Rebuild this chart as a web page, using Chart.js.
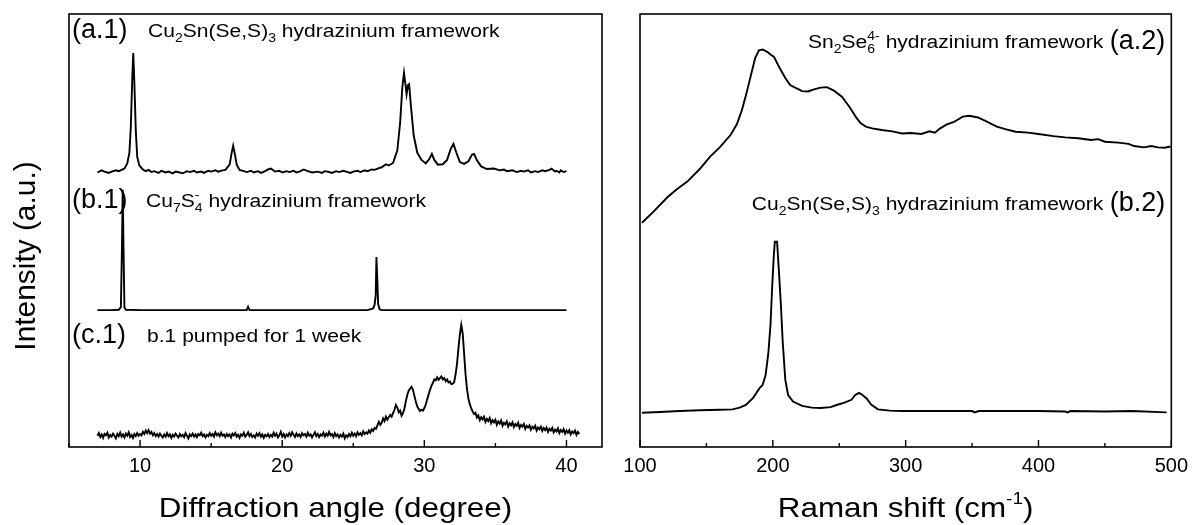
<!DOCTYPE html>
<html>
<head>
<meta charset="utf-8">
<script src="https://cdn.jsdelivr.net/npm/chart.js@4.4.1/dist/chart.umd.min.js"></script>
<style>
  html, body { margin: 0; padding: 0; background: #fff; }
  #wrap { position: relative; width: 1195px; height: 525px; }
  canvas { position: absolute; top: 0; }
  #xrd { left: 0; }
  #raman { left: 610px; }
</style>
</head>
<body>
<div id="wrap">
  <canvas id="xrd" width="610" height="525"></canvas>
  <canvas id="raman" width="585" height="525"></canvas>
</div>
<script>
// XRD traces, [angle, intensity a.u.] (already stacked)
const xrdA1 = [
  [7.0,63.4],[7.3,63.9],[7.5,63.6],[7.8,63.3],[8.0,63.6],[8.3,63.9],[8.5,63.7],[8.7,64.0],[8.9,64.3],[9.1,65.5],[9.25,68],[9.35,74],[9.45,85],[9.52,91.0],
  [9.6,84],[9.7,73],[9.8,67],[9.95,65],[10.2,64.1],[10.4,63.7],[10.6,64.0],[10.8,63.5],[11.0,63.7],[11.3,63.3],[11.5,63.8],[11.8,63.4],[12.0,63.6],[12.3,63.2],[12.5,63.6],
  [12.8,63.4],[13.0,63.2],[13.3,63.7],[13.5,63.5],[13.8,63.8],[14.0,63.4],[14.3,63.6],[14.5,63.3],[14.8,63.8],[15.0,63.6],[15.3,63.9],[15.5,63.6],[15.8,63.9],[16.0,64.0],[16.3,65.2],[16.45,68],[16.55,69.6],
  [16.65,68],[16.8,65.2],[17.0,64.0],[17.3,63.7],[17.5,63.5],[17.8,63.8],[18.0,63.4],[18.3,63.7],[18.5,63.3],[18.8,63.7],[19.0,64.1],[19.2,64.3],[19.5,63.6],[19.8,63.8],[20.0,63.4],
  [20.3,63.7],[20.5,63.5],[20.8,63.8],[21.0,63.4],[21.3,63.7],[21.5,64.1],[21.8,63.7],[22.1,63.4],[22.5,63.6],[22.8,63.3],[23.0,63.7],[23.3,63.5],[23.5,63.3],[23.8,63.7],[24.0,63.5],[24.3,63.8],[24.5,63.6],[24.8,63.3],[25.0,63.6],
  [25.3,63.8],[25.5,63.5],[25.8,63.9],[26.0,63.7],[26.3,64.1],[26.5,64.0],[26.8,64.4],[27.0,64.6],[27.3,65.3],[27.5,65.0],[27.8,65.6],[28.1,68.5],[28.3,75],[28.45,83],
  [28.57,86.4],[28.68,83.5],[28.75,81.5],[28.85,83.6],[28.93,83.8],[29.05,79],[29.25,72],[29.5,68],[29.8,66.3],[30.1,65.5],
  [30.35,66.5],[30.53,67.7],[30.7,66.3],[30.95,65.2],[31.3,65.3],[31.6,66.3],[31.85,68.8],[32.05,70.0],[32.25,68],[32.5,65.8],
  [32.8,65.4],[33.1,66.0],[33.35,67.5],[33.5,67.7],[33.7,66.2],[34.0,64.8],[34.4,64.2],[34.9,64.3],[35.3,63.9],[35.6,64.1],[35.8,63.7],[36.2,63.9],
  [36.5,63.5],[36.8,63.8],[37.0,63.6],[37.3,63.9],[37.5,63.4],[37.8,63.7],[38.0,63.5],[38.3,63.9],[38.5,63.7],[38.8,64.0],[38.95,64.3],[39.2,63.6],[39.3,63.8],[39.5,63.4],[39.6,63.9],[39.8,63.5],[40.0,63.7]
];
const xrdB1 = [
  [7.0,31.6],[8.0,31.6],[8.5,31.7],[8.65,32.3],[8.72,45],[8.78,59.4],[8.84,45],[8.9,32.2],[9.0,31.7],[10.0,31.6],
  [17.5,31.6],[17.6,32.4],[17.7,31.6],[26.0,31.6],[26.4,32.0],[26.5,32.8],[26.58,35],[26.63,43.9],[26.7,38],[26.75,33],
  [26.85,31.8],[27.0,31.6],[40.0,31.6]
];
const xrdC1 = [
  [7.0,2.6],[7.1,3.2],[7.2,2.3],[7.3,2.9],[7.4,2.1],[7.5,3.0],[7.6,2.7],[7.7,3.3],[7.8,2.2],[7.9,2.8],
  [8.0,2.4],[8.1,3.1],[8.2,2.6],[8.3,2.0],[8.4,3.0],[8.5,2.5],[8.6,3.3],[8.7,2.4],[8.8,2.9],[8.9,2.2],
  [9.0,3.1],[9.1,2.6],[9.2,3.4],[9.3,2.3],[9.4,2.8],[9.5,2.1],[9.6,3.0],[9.7,2.5],[9.8,3.2],[9.9,2.6],
  [10.0,3.0],[10.1,2.7],[10.2,3.5],[10.3,3.0],[10.4,3.8],[10.5,3.2],[10.6,3.9],[10.7,3.1],[10.8,3.5],[10.9,2.7],
  [11.0,3.2],[11.1,2.5],[11.2,3.0],[11.3,2.4],[11.4,3.1],[11.5,2.6],[11.6,2.2],[11.7,2.9],[11.8,2.4],[11.9,3.2],
  [12.0,2.5],[12.1,2.9],[12.2,2.1],[12.3,2.8],[12.4,2.4],[12.5,3.1],[12.6,2.6],[12.7,2.2],[12.8,3.0],[12.9,2.5],
  [13.0,2.8],[13.1,2.3],[13.2,3.2],[13.3,2.6],[13.4,2.0],[13.5,2.9],[13.6,2.5],[13.7,3.1],[13.8,2.4],[13.9,2.9],
  [14.0,2.3],[14.1,3.0],[14.2,2.7],[14.3,3.3],[14.4,2.5],[14.5,2.9],[14.6,2.2],[14.7,2.8],[14.8,2.5],[14.9,3.2],
  [15.0,2.6],[15.1,3.0],[15.2,2.4],[15.3,3.4],[15.4,2.7],[15.5,3.1],[15.6,2.5],[15.7,3.3],[15.8,2.6],[15.9,2.9],
  [16.0,2.3],[16.1,3.0],[16.2,2.5],[16.3,2.9],[16.4,2.2],[16.5,3.1],[16.6,2.7],[16.7,3.2],[16.8,2.4],[16.9,2.8],
  [17.0,2.1],[17.1,2.9],[17.2,2.6],[17.3,3.3],[17.4,2.4],[17.5,2.8],[17.6,3.4],[17.7,2.5],[17.8,3.0],[17.9,2.3],
  [18.0,2.7],[18.1,2.2],[18.2,3.1],[18.3,2.6],[18.4,3.2],[18.5,2.4],[18.6,2.9],[18.7,2.1],[18.8,2.8],[18.9,2.5],
  [19.0,3.0],[19.1,2.3],[19.2,2.8],[19.3,2.4],[19.4,3.3],[19.5,2.6],[19.6,3.1],[19.7,2.2],[19.8,2.7],[19.9,3.5],
  [20.0,2.4],[20.1,3.0],[20.2,2.2],[20.3,2.9],[20.4,2.5],[20.5,3.2],[20.6,2.6],[20.7,3.4],[20.8,2.8],[20.9,2.3],
  [21.0,3.1],[21.1,2.5],[21.2,2.9],[21.3,2.3],[21.4,3.2],[21.5,2.7],[21.6,3.0],[21.7,2.4],[21.8,3.3],[21.9,2.6],
  [22.0,2.9],[22.1,2.2],[22.2,2.8],[22.3,3.4],[22.4,2.5],[22.5,3.0],[22.6,2.3],[22.7,2.9],[22.8,2.6],[22.9,3.3],
  [23.0,2.4],[23.1,3.1],[23.2,2.6],[23.3,3.5],[23.4,2.7],[23.5,3.0],[23.6,2.3],[23.7,3.2],[23.8,2.5],[23.9,2.9],
  [24.0,2.2],[24.1,2.8],[24.2,2.4],[24.3,3.1],[24.4,2.0],[24.5,2.7],[24.6,2.3],[24.7,3.0],[24.8,2.5],[24.9,3.3],
  [25.0,2.6],[25.1,3.1],[25.2,2.5],[25.3,3.4],[25.4,2.8],[25.5,3.2],[25.6,2.7],[25.7,3.6],[25.8,3.0],[25.9,3.4],
  [26.0,3.1],[26.1,3.8],[26.2,3.3],[26.3,4.1],[26.4,3.7],[26.5,4.4],[26.6,4.2],[26.7,5.0],[26.8,5.8],[26.9,5.1],
  [27.0,5.6],[27.1,6.6],[27.2,6.0],[27.3,7.0],[27.4,6.3],[27.5,6.9],[27.6,7.4],[27.7,7.0],[27.8,7.8],[27.9,8.6],
  [28.0,9.7],[28.1,9.1],[28.2,8.0],[28.3,8.4],[28.4,7.2],[28.5,7.8],[28.6,8.9],[28.7,10.6],[28.8,12.0],[28.9,13.0],
  [29.0,13.5],[29.1,13.9],[29.2,13.2],[29.3,11.8],[29.4,10.5],[29.5,9.4],[29.6,8.8],[29.7,8.3],[29.8,8.6],[29.9,8.4],
  [30.0,9.0],[30.1,9.8],[30.2,11.0],[30.3,12.1],[30.4,13.2],[30.5,14.1],[30.6,14.8],[30.7,15.6],[30.8,15.4],[30.9,16.1],
  [31.0,15.5],[31.1,15.9],[31.2,16.3],[31.3,15.6],[31.4,15.9],[31.5,15.2],[31.6,15.6],[31.7,14.9],[31.8,15.1],[31.9,14.5],
  [32.0,14.6],[32.1,15.0],[32.2,16.8],[32.3,19.2],[32.4,22.8],[32.5,26.0],[32.6,28.2],[32.7,26.2],[32.8,21.5],[32.9,16.8],
  [33.0,13.4],[33.1,11.2],[33.2,9.9],[33.3,8.9],[33.4,8.2],[33.5,7.6],[33.6,7.9],[33.7,6.8],[33.8,7.3],[33.9,6.2],
  [34.0,6.9],[34.1,6.4],[34.2,7.0],[34.3,5.8],[34.4,6.5],[34.5,6.0],[34.6,6.7],[34.7,5.5],[34.8,6.2],[34.9,5.7],
  [35.0,6.3],[35.1,5.1],[35.2,5.9],[35.3,5.4],[35.4,6.1],[35.5,4.9],[35.6,5.6],[35.7,5.2],[35.8,5.9],[35.9,4.7],
  [36.0,5.5],[36.1,5.0],[36.2,5.7],[36.3,4.6],[36.4,5.3],[36.5,4.9],[36.6,5.6],[36.7,4.4],[36.8,5.1],[36.9,4.7],
  [37.0,5.3],[37.1,4.2],[37.2,4.9],[37.3,4.5],[37.4,5.0],[37.5,4.0],[37.6,4.7],[37.7,4.3],[37.8,4.9],[37.9,3.8],
  [38.0,4.5],[38.1,4.1],[38.2,4.7],[38.3,3.7],[38.4,4.4],[38.5,3.9],[38.6,4.5],[38.7,3.5],[38.8,4.2],[38.9,3.8],
  [39.0,4.4],[39.1,3.4],[39.2,4.0],[39.3,3.6],[39.4,4.3],[39.5,3.2],[39.6,3.9],[39.7,3.5],[39.8,4.1],[39.9,3.1],
  [40.0,3.8],[40.1,3.3],[40.2,3.9],[40.3,2.9],[40.4,3.6],[40.5,3.2],[40.6,3.8],[40.7,2.8],[40.8,3.5],[40.9,3.0]
];

// Raman traces, [shift cm-1, intensity a.u.]
const ramanA2 = [
  [101.5,51.8],[110,54.3],[121,57.8],[128,59.6],[135.6,61.3],[145,64.2],[152.6,67.0],[160,69.2],[168.3,72.1],[173,74.6],
  [176.7,77.8],[180,81.5],[184,86.5],[186.7,89.8],[189.5,91.6],[192.3,91.8],[196,91.2],[198.5,90.6],[200.9,90.1],[205,87.6],
  [209.4,85.2],[213,83.6],[218,82.8],[222,82.2],[226.5,82.1],[231,82.6],[236,83.0],[240.7,83.1],[246,82.3],[252,80.9],
  [258,78.4],[263,76.0],[266,74.8],[270,74.0],[274.8,73.6],[282,73.2],[290,72.9],[297.4,72.4],[304,72.5],[311.8,72.3],
  [318,72.9],[322,72.6],[326,73.6],[331,74.5],[336,75.0],[343,76.3],[348,76.5],[354.4,76.1],[360,75.3],[368.6,74.0],
  [375,73.4],[382.8,72.8],[392,72.6],[400,72.3],[411.2,71.8],[420,71.5],[430,71.3],[439.5,70.9],[445,71.1],[450,70.5],
  [460,70.3],[467.8,70.0],[472,69.5],[479.4,69.2],[485,69.5],[490,69.2],[495,69.1],[499.4,69.4]
];
const ramanB2 = [
  [101.5,7.9],[115,8.1],[130,8.3],[145,8.5],[160,8.6],[169.7,8.7],[175,9.1],[179.7,9.7],[185,11.3],[190,13.6],
  [192.3,14.3],[194.5,16.5],[196.6,21.6],[198.3,28.5],[199.5,37.0],[200.7,44.0],[201.5,47.4],[203.2,47.4],[204.5,41.0],[206,33.2],
  [207.5,24.0],[209.4,15.5],[211.5,12.0],[215.2,10.5],[222,9.5],[229.3,9.1],[236,9.0],[243.5,9.2],[248,9.7],[253.4,10.2],
  [259.2,10.9],[262,12.0],[264.9,12.5],[267.5,12.0],[270.6,11.2],[274,9.8],[279.1,8.7],[288,8.4],[297.4,8.3],[320,8.3],
  [350,8.3],[352,8.0],[355,8.3],[400,8.3],[420,8.2],[422,8.0],[424,8.3],[450,8.2],[470,8.3],[496.5,8.0]
];

// tick labels
const xrdTicks = [10, 20, 30, 40];
const xrdMinor = [5, 15, 25, 35];
const ramanTicks = [100, 200, 300, 400, 500];
const ramanMinor = [150, 250, 350, 450];

const FONT = "'Liberation Sans', Arial, Helvetica, sans-serif";

// rich text: parts with size, baseline shift; "stay" parts do not move the pen (stacked sub/sup)
function layoutParts(ctx, parts) {
  let x = 0, held = 0;
  const items = [];
  parts.forEach(p => {
    ctx.font = p.s + 'px ' + FONT;
    const w = ctx.measureText(p.t).width;
    items.push({ p: p, x: x });
    if (p.stay) { held = w; } else { x += Math.max(w, held); held = 0; }
  });
  return { items: items, width: x };
}

function drawParts(ctx, parts, x, y, align, sx, rot) {
  const L = layoutParts(ctx, parts);
  const W = L.width * sx;
  const off = align === 'right' ? -W : align === 'center' ? -W / 2 : 0;
  ctx.save();
  ctx.translate(x, y);
  if (rot) ctx.rotate(-Math.PI / 2);
  ctx.translate(off, 0);
  ctx.scale(sx, 1);
  ctx.fillStyle = '#000';
  ctx.textAlign = 'left';
  ctx.textBaseline = 'alphabetic';
  L.items.forEach(it => {
    ctx.font = it.p.s + 'px ' + FONT;
    ctx.fillText(it.p.t, it.x, it.p.dy || 0);
  });
  ctx.restore();
}

const panelPlugin = {
  id: 'panel',
  afterDraw(chart, args, opts) {
    const ctx = chart.ctx, a = chart.chartArea, xs = chart.scales.x;
    ctx.save();
    ctx.strokeStyle = '#000';
    ctx.lineWidth = 1.6;
    ctx.strokeRect(a.left, a.top, a.right - a.left, a.bottom - a.top);
    ctx.lineWidth = 1.4;
    const tick = (v, len) => {
      const px = xs.getPixelForValue(v);
      ctx.beginPath();
      ctx.moveTo(px, a.bottom);
      ctx.lineTo(px, a.bottom - len);
      ctx.stroke();
    };
    opts.major.forEach(v => tick(v, 7));
    opts.minor.forEach(v => tick(v, 4));
    ctx.restore();
    opts.texts.forEach(t => {
      const base = t.ref === 'left' ? a.left : t.ref === 'right' ? a.right : t.ref === 'mid' ? (a.left + a.right) / 2 : 0;
      drawParts(ctx, t.parts, base + t.dx, t.y, t.align, t.sx || 1, t.rot);
    });
  }
};

const sub = t => ({ t: t, s: 12, dy: 5 });
const subStay = t => ({ t: t, s: 12, dy: 5, stay: true });
const sup = t => ({ t: t, s: 12, dy: -8 });
const big = t => ({ t: t, s: 27 });
const txt = t => ({ t: t, s: 18 });

function lineSet(points) {
  return {
    data: points.map(p => ({ x: p[0], y: p[1] })),
    borderColor: '#000',
    borderWidth: 1.9,
    pointRadius: 0,
    fill: false,
    tension: 0
  };
}

function baseOptions(xMin, xMax, ticks, pad, panel) {
  return {
    responsive: false,
    animation: false,
    devicePixelRatio: 1,
    events: [],
    layout: { padding: pad },
    plugins: { legend: { display: false }, tooltip: { enabled: false }, panel: panel },
    scales: {
      x: {
        type: 'linear', min: xMin, max: xMax,
        afterBuildTicks: s => { s.ticks = ticks.map(v => ({ value: v })); },
        afterFit: s => { s.height = 78; },
        grid: { display: false, drawTicks: false },
        border: { display: false },
        ticks: { color: '#000', font: { family: FONT, size: 20 }, padding: 7, maxRotation: 0, autoSkip: false }
      },
      y: { display: false, min: 0, max: 100 }
    }
  };
}

new Chart(document.getElementById('xrd'), {
  type: 'line',
  data: { datasets: [lineSet(xrdA1), lineSet(xrdB1), lineSet(xrdC1)] },
  options: baseOptions(5, 42.5, xrdTicks, { left: 69, right: 8, top: 14, bottom: 0 }, {
    major: xrdTicks,
    minor: xrdMinor,
    texts: [
      { ref: 'left', dx: 3, y: 38, align: 'left', parts: [big('(a.1)')] },
      { ref: 'left', dx: 79, y: 37, align: 'left', sx: 1.17,
        parts: [txt('Cu'), sub('2'), txt('Sn(Se,S)'), sub('3'), txt(' hydrazinium framework')] },
      { ref: 'left', dx: 3, y: 208, align: 'left', parts: [big('(b.1)')] },
      { ref: 'left', dx: 77, y: 207, align: 'left', sx: 1.17,
        parts: [txt('Cu'), sub('7'), txt('S'), subStay('4'), sup('-'), txt(' hydrazinium framework')] },
      { ref: 'left', dx: 3, y: 343, align: 'left', parts: [big('(c.1)')] },
      { ref: 'left', dx: 78, y: 342, align: 'left', sx: 1.17, parts: [txt('b.1 pumped for 1 week')] },
      { ref: 'mid', dx: 0, y: 517, align: 'center', sx: 1.12, parts: [{ t: 'Diffraction angle (degree)', s: 28 }] },
      { ref: 'abs', dx: 35, y: 256, align: 'center', sx: 1.03, rot: true, parts: [{ t: 'Intensity (a.u.)', s: 29 }] }
    ]
  }),
  plugins: [panelPlugin]
});

new Chart(document.getElementById('raman'), {
  type: 'line',
  data: { datasets: [lineSet(ramanA2), lineSet(ramanB2)] },
  options: baseOptions(100, 500, ramanTicks, { left: 30, right: 20, top: 14, bottom: 0 }, {
    major: ramanTicks,
    minor: ramanMinor,
    texts: [
      { ref: 'right', dx: -6, y: 49, align: 'right', parts: [big('(a.2)')] },
      { ref: 'right', dx: -68, y: 48, align: 'right', sx: 1.17,
        parts: [txt('Sn'), sub('2'), txt('Se'), subStay('6'), sup('4-'), txt(' hydrazinium framework')] },
      { ref: 'right', dx: -6, y: 211, align: 'right', parts: [big('(b.2)')] },
      { ref: 'right', dx: -68, y: 210, align: 'right', sx: 1.17,
        parts: [txt('Cu'), sub('2'), txt('Sn(Se,S)'), sub('3'), txt(' hydrazinium framework')] },
      { ref: 'mid', dx: 0, y: 517, align: 'center', sx: 1.12,
        parts: [{ t: 'Raman shift (cm', s: 28 }, { t: '-1', s: 17, dy: -13 }, { t: ')', s: 28 }] }
    ]
  }),
  plugins: [panelPlugin]
});
</script>
</body>
</html>
